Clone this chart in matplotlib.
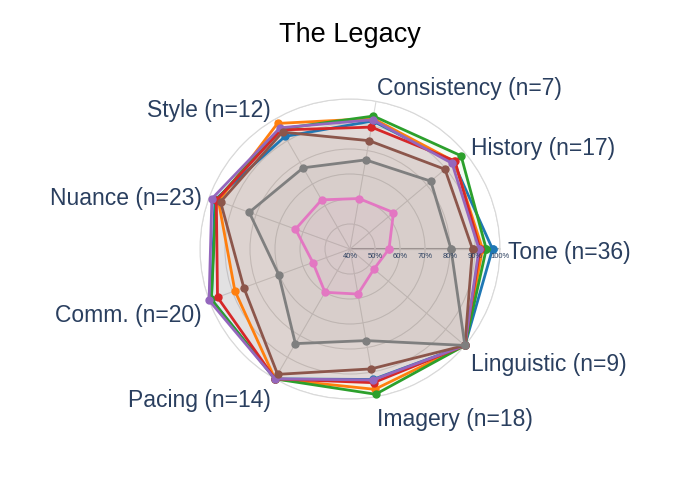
import numpy as np
import matplotlib.pyplot as plt

plt.rcParams["font.family"] = ["Liberation Sans", "DejaVu Sans"]

categories = ["Tone (n=36)", "History (n=17)", "Consistency (n=7)", "Style (n=12)",
              "Nuance (n=23)", "Comm. (n=20)", "Pacing (n=14)", "Imagery (n=18)",
              "Linguistic (n=9)"]

# scores per model (fraction), one list per trace, same order as categories
blue = [0.97, 0.94, 0.92, 0.92, 0.975, 0.99, 1.00, 0.93, 1.00]
orange = [0.93, 0.945, 0.93, 0.98, 0.96, 0.89, 1.00, 0.97, 1.00]
green = [0.945, 0.98, 0.94, 0.955, 0.97, 0.99, 1.00, 0.99, 1.00]
red = [0.92, 0.948, 0.895, 0.95, 0.969, 0.964, 1.00, 0.943, 1.00]
purple = [0.916, 0.933, 0.925, 0.96, 0.988, 1.00, 1.00, 0.932, 1.00]
brown = [0.89, 0.896, 0.84, 0.94, 0.951, 0.852, 0.979, 0.887, 1.00]
pink = [0.556, 0.627, 0.605, 0.627, 0.632, 0.558, 0.60, 0.583, 0.525]
gray = [0.804, 0.822, 0.762, 0.775, 0.829, 0.703, 0.837, 0.772, 1.00]

series = [blue, orange, green, red, purple, brown, pink, gray]
colors = ["#1f77b4", "#ff7f0e", "#2ca02c", "#d62728", "#9467bd",
          "#8c564b", "#e377c2", "#7f7f7f"]

r_ticks = [0.4, 0.5, 0.6, 0.7, 0.8, 0.9, 1.0]
r_min, r_max = 0.4, 1.0

n = len(categories)
angles = np.linspace(0, 2 * np.pi, n, endpoint=False)

fig = plt.figure(figsize=(7, 5), dpi=100)
ax = fig.add_axes([0.2857, 0.202, 0.4286, 0.6], projection="polar")
ax.set_ylim(r_min, r_max)

for vals, col in zip(series, colors):
    th = np.append(angles, angles[0])
    rv = np.append(vals, vals[0])
    ax.fill(th, rv, color=col, alpha=0.05, lw=0, zorder=2)
    ax.plot(th, rv, color=col, lw=2, marker="o", ms=5, zorder=3,
            clip_on=False)

# grid styling
ax.set_xticks(angles)
ax.set_xticklabels([])
ax.set_yticks(r_ticks)
ax.set_yticklabels([])
ax.grid(color="#d9d9d9", lw=0.8)
ax.spines["polar"].set_color("#d9d9d9")
ax.spines["polar"].set_linewidth(0.8)
ax.set_facecolor("white")
ax.plot([0, 0], [r_min, r_max], color="#a8a8a8", lw=1.5, zorder=1)

for r in r_ticks:
    ax.annotate(f"{int(round(r * 100))}%", xy=(0, r), xytext=(0, -3),
                textcoords="offset points", ha="center", va="top",
                fontsize=5.5, color="#2a3f5f", zorder=5)

# category labels outside the circle (offsets in px, converted to points)
px = 0.72
for ang, lab in zip(angles, categories):
    c, s = np.cos(ang), np.sin(ang)
    ha = "left" if c > 0.1 else ("right" if c < -0.1 else "center")
    if s < -0.1:
        down = 11.3 + 12 * abs(s)
    else:
        down = 3 - 16 * s * s
    ax.annotate(lab, xy=(ang, r_max), xytext=(8 * c * px, -down * px),
                textcoords="offset points", ha=ha, va="center",
                fontsize=16.5, color="#2a3f5f", annotation_clip=False)

fig.text(0.5, 0.93, "The Legacy", ha="center", va="center",
         fontsize=19.5, color="black")

fig.savefig("out.png", dpi=100)
